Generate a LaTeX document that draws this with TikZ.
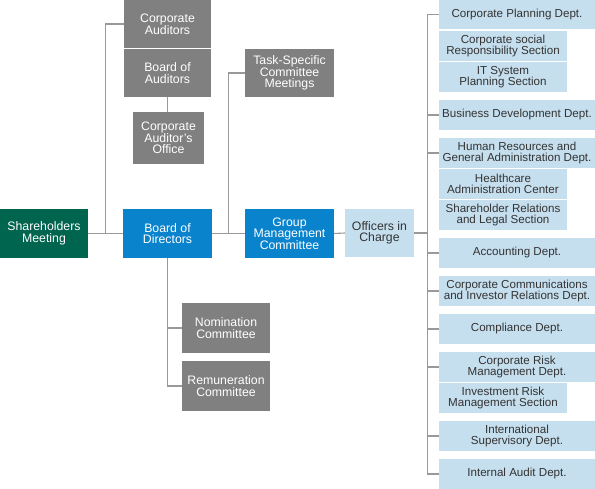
\documentclass[tikz,border=0pt]{standalone}
\usepackage{fontspec}
\setmainfont{Liberation Sans}
\definecolor{gbox}{HTML}{808080}
\definecolor{bluebox}{HTML}{0A83CD}
\definecolor{greenbox}{HTML}{00654F}
\definecolor{lightbox}{HTML}{C6DFEE}
\definecolor{linec}{HTML}{999999}
\definecolor{darktext}{HTML}{333333}
\tikzset{
  base/.style={anchor=north west, inner sep=0pt, outer sep=0pt, align=center,
    font=\fontsize{12.3}{11.6}\selectfont},
  graybox/.style={base, fill=gbox, text=white},
  bluenode/.style={base, fill=bluebox, text=white},
  greennode/.style={base, fill=greenbox, text=white},
  lightnode/.style={base, fill=lightbox, text=darktext},
  deptbox/.style={base, fill=lightbox, text=darktext, font=\fontsize{11.6}{11}\selectfont,
    minimum width=156pt, minimum height=30pt},
  secbox/.style={deptbox, minimum width=128pt},
  conn/.style={draw=linec, line width=1.1pt}
}
\begin{document}
\begin{tikzpicture}[x=1pt,y=-1pt]
\fill[white] (0,0) rectangle (595,489);
\useasboundingbox (0,0) rectangle (595,489);
% left part
\node[graybox, minimum width=87pt, minimum height=48pt] (ca) at (124,0) {Corporate\\Auditors};
\node[graybox, minimum width=87pt, minimum height=48pt] (boa) at (124,49) {Board of\\Auditors};
\node[graybox, minimum width=71pt, minimum height=52pt] (cao) at (133,112) {Corporate\\Auditor's\\Office};
\node[greennode, minimum width=88pt, minimum height=49pt] (sh) at (0,209) {Shareholders\\Meeting};
\node[bluenode, minimum width=89pt, minimum height=49pt] (bod) at (123,209) {Board of\\Directors};
\node[graybox, minimum width=89pt, minimum height=48pt] (tsc) at (245,49) {Task-Specific\\Committee\\Meetings};
\node[bluenode, minimum width=89pt, minimum height=49pt] (gmc) at (245,209) {Group\\Management\\Committee};
\node[lightnode, minimum width=69pt, minimum height=48pt] (oic) at (345,209) {Officers in\\Charge};
\node[graybox, minimum width=88pt, minimum height=50pt] (nom) at (182,303) {Nomination\\Committee};
\node[graybox, minimum width=88pt, minimum height=50pt] (rem) at (182,361) {Remuneration\\Committee};
% departments
\node[deptbox, minimum height=29pt] (cpd) at (439,0) {Corporate Planning Dept.};
\node[secbox] (csr) at (439,31) {Corporate social\\Responsibility Section};
\node[secbox] (its) at (439,62) {IT System\\Planning Section};
\node[deptbox] (bdd) at (439,100) {Business Development Dept.};
\node[deptbox] (hrd) at (439,138) {Human Resources and\\General Administration Dept.};
\node[secbox] (hac) at (439,169) {Healthcare\\Administration Center};
\node[secbox] (srl) at (439,200) {Shareholder Relations\\and Legal Section};
\node[deptbox] (acc) at (439,238) {Accounting Dept.};
\node[deptbox] (cci) at (439,276) {Corporate Communications\\and Investor Relations Dept.};
\node[deptbox] (cmp) at (439,314) {Compliance Dept.};
\node[deptbox] (crm) at (439,352) {Corporate Risk\\Management Dept.};
\node[secbox] (irm) at (439,383) {Investment Risk\\Management Section};
\node[deptbox] (isd) at (439,421) {International\\Supervisory Dept.};
\node[deptbox] (iad) at (439,459) {Internal Audit Dept.};
% connectors
\coordinate (j1) at (105.5,233.5);
\coordinate (j2) at (228.5,233.5);
\coordinate (rv) at (427.5,0);
\draw[conn] (sh.east) -- (bod.west);
\draw[conn] (ca.west) -| (j1);
\draw[conn] (bod.east) -- (gmc.west);
\draw[conn] (tsc.west) -| (j2);
\draw[conn] (boa.south) -- (boa.south |- cao.north);
\draw[conn] (bod.south) |- (nom.west);
\draw[conn] (bod.south) |- (rem.west);
\draw[conn] (gmc.east) -- (oic.west);
\draw[conn] (oic.east) -- (oic.east -| rv);
\draw[conn] (cpd.west) -| (rv |- iad.west) -- (iad.west);
\foreach \n in {bdd,hrd,acc,cci,cmp,crm,isd}{
  \draw[conn] (\n.west) -- (\n.west -| rv);
}
\end{tikzpicture}
\end{document}
